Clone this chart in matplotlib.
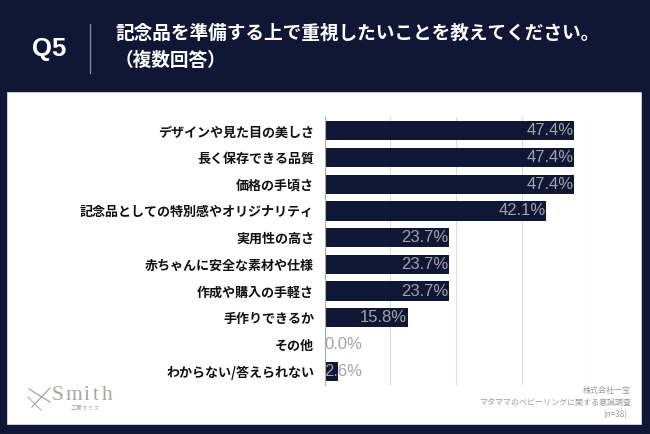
import matplotlib
matplotlib.use('Agg')
from matplotlib import pyplot as plt
from matplotlib.patches import Rectangle

plt.rcParams['font.family'] = ['Noto Sans CJK JP', 'DejaVu Sans']

# data
categories = ['デザインや見た目の美しさ', '長く保存できる品質', '価格の手頃さ',
              '記念品としての特別感やオリジナリティ', '実用性の高さ', '赤ちゃんに安全な素材や仕様',
              '作成や購入の手軽さ', '手作りできるか', 'その他', 'わからない/答えられない']
values = [47.4, 47.4, 47.4, 42.1, 23.7, 23.7, 23.7, 15.8, 0.0, 2.6]
grid_ticks = [0, 12.5, 25, 37.5, 50]

NAVY = '#0f1736'
W, H = 650, 434

fig = plt.figure(figsize=(6.5, 4.34), dpi=100, facecolor=NAVY)

# pixel coordinate layer for the header, panel and footer
bg = fig.add_axes([0, 0, 1, 1])
bg.set_xlim(0, W)
bg.set_ylim(H, 0)
bg.axis('off')
bg.add_patch(Rectangle((7, 92), 634, 332, fc='white', ec='#d5d8e2', lw=0.6))
bg.plot([90, 90], [24, 73], color='#8c90a4', lw=0.9)
bg.text(49.5, 49, 'Q5', color='white', fontsize=18.5, fontweight='bold', family='Liberation Sans',
        ha='center', va='center')
bg.text(115, 33, '記念品を準備する上で重視したいことを教えてください。', color='white', fontsize=13.45,
        fontweight='bold', ha='left', va='center')
bg.text(115, 60, '（複数回答）', color='white', fontsize=13.45, fontweight='bold', ha='left', va='center')

# footer
foot = '#9a9a9a'
bg.text(631, 390, '株式会社一宝', color=foot, fontsize=5.8, ha='right', va='center')
bg.text(631, 402, 'マタママのベビーリングに関する意識調査', color=foot, fontsize=5.8, ha='right', va='center')
bg.text(627, 415, '(n=38)', color=foot, fontsize=5.8, ha='right', va='center')

# logo
logo = '#a8a498'
bg.plot([29, 50], [389, 402], color=logo, lw=0.9)
bg.plot([32, 50], [407, 388], color=logo, lw=0.9)
bg.plot([28, 41], [397, 410], color=logo, lw=0.7)
for letter, lx in zip('Smith', [52, 65, 84, 93, 102]):
    bg.text(lx, 395, letter, color=logo, fontsize=15.5, family='Liberation Serif', ha='left', va='center')
bg.text(85, 408, '工房スミス', color=logo, fontsize=4.2, ha='center', va='center')

# chart
ax = fig.add_axes([324.5 / W, 1 - 385 / H, 263.5 / W, 268 / H])
ax.set_facecolor('none')
y = list(range(len(values)))
ax.barh(y, values, height=0.72, color=NAVY, zorder=2)
ax.set_xlim(0, 50)
ax.set_ylim(len(values) - 0.48, -0.52)
ax.set_xticks(grid_ticks)
ax.grid(axis='x', color='#dcdcdc', lw=0.8, zorder=1)
for side in ['top', 'right', 'bottom']:
    ax.spines[side].set_visible(False)
ax.spines['left'].set_color('#a9a9a9')
ax.tick_params(length=0)
ax.tick_params(axis='x', labelbottom=False)
ax.set_yticks(y)
ax.set_yticklabels(categories, fontsize=9.4, fontweight='bold', color='#111111')
ax.tick_params(axis='y', pad=7.5)

for i, v in enumerate(values):
    ax.text(7.2 if v < 7 else v - 0.1, i, f'{v:.1f}%', color='#a3a3a3', fontsize=12,
            family='Liberation Sans', ha='right', va='center', zorder=3)

fig.savefig('out.png', dpi=100, facecolor=NAVY)
